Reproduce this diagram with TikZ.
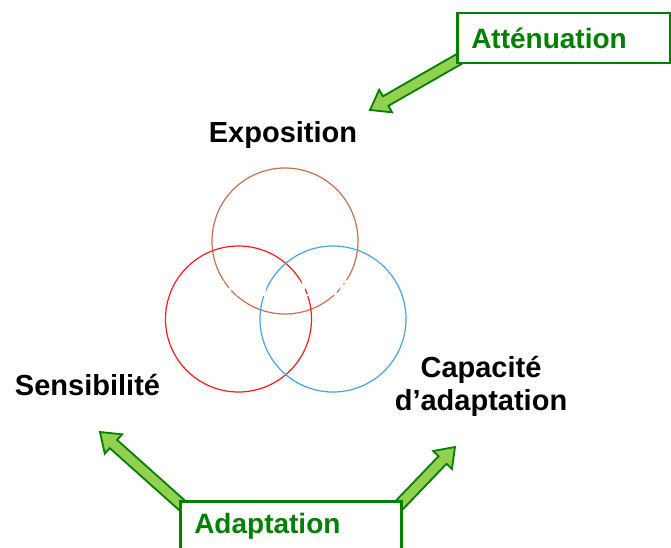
\documentclass[tikz,border=0pt]{standalone}
\usepackage{fontspec}
\setmainfont{Liberation Sans}
\usetikzlibrary{calc, backgrounds}

\definecolor{leafgreen}{RGB}{0,128,0}
\definecolor{arrowfill}{RGB}{146,208,80}
\definecolor{expocol}{RGB}{200,112,80}
\definecolor{senscol}{RGB}{245,30,30}
\definecolor{capacol}{RGB}{70,165,230}

% block arrow from #1 (tail) to #2 (tip)
\newcommand{\greenarrow}[2]{%
  \coordinate (hb) at ($(#2)!18pt!(#1)$);
  \filldraw[blockarrow] ($(#1)!5.5pt!90:(#2)$) -- ($(hb)!5.5pt!90:(#2)$)
    -- ($(hb)!13pt!90:(#2)$) -- (#2) -- ($(hb)!13pt!-90:(#2)$)
    -- ($(hb)!5.5pt!-90:(#2)$) -- ($(#1)!5.5pt!-90:(#2)$) -- cycle;
}

\begin{document}
\begin{tikzpicture}[x=1pt, y=-1pt,
    lbl/.style={font=\fontsize{29}{33}\selectfont\bfseries, inner sep=0pt, align=center},
    ring/.style={circle, draw, line width=1.2pt, minimum size=146pt, inner sep=0pt},
    greenbox/.style={rectangle, draw=leafgreen, line width=2.5pt, fill=white, text=leafgreen,
        font=\fontsize{28}{32}\selectfont\bfseries, inner xsep=14pt, align=left,
        text height=20pt, text depth=0pt},
    blockarrow/.style={fill=arrowfill, draw=leafgreen, line width=1.8pt, line join=miter}
]
    \useasboundingbox (0,0) rectangle (671,548);
    \clip (0,0) rectangle (671,548);

    % the three rings
    \node[ring, draw=expocol] (cexpo) at (285,241) {};
    \node[ring, draw=senscol] (csens) at (238.5,319) {};
    \node[ring, draw=capacol] (ccapa) at (333,319) {};
    \node[font=\fontsize{22}{26}\selectfont\bfseries, text=white, anchor=base, inner sep=0pt] (vuln) at (286,296) {Vulnérabilité};

    % labels
    \node[lbl, anchor=base] (lexpo) at (283,143) {Exposition};
    \node[lbl, anchor=base] (lsens) at (87.5,395) {Sensibilité};
    \node[lbl, anchor=base] (lcapa) at (481,410) {Capacité\\d’adaptation};

    % green boxes
    \node[greenbox, text width=185pt, anchor=north west, inner ysep=15pt] (att) at (456,12) {Atténuation};
    \node[greenbox, text width=193pt, anchor=north west, inner ysep=12pt, text depth=40pt] (adapt) at (179,500) {Adaptation};

    % arrow ends
    \coordinate (atttip) at (370,110);
    \coordinate (senstip) at (100,432);
    \coordinate (capatip) at (455,447);
    \coordinate (atttail) at ($(att.south west)+(4,-6)$);
    \coordinate (senstail) at ($(adapt.north west)+(6,8)$);
    \coordinate (capatail) at ($(adapt.north east)+(-6,8)$);

    % arrows, behind the boxes
    \begin{scope}[on background layer]
        \fill[white] (0,0) rectangle (671,548);
        \greenarrow{atttail}{atttip}
        \greenarrow{senstail}{senstip}
        \greenarrow{capatail}{capatip}
    \end{scope}
\end{tikzpicture}
\end{document}
